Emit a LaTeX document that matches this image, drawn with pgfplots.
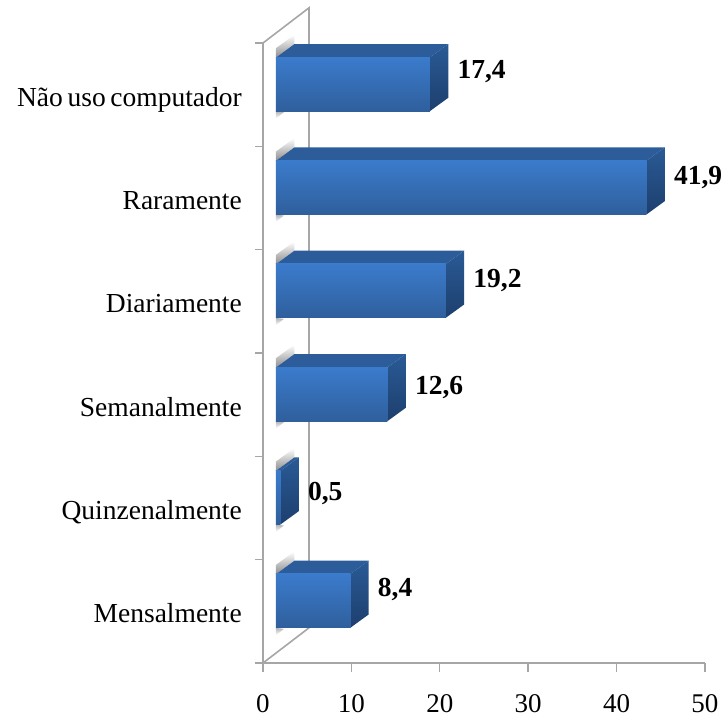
\documentclass[border=0pt]{standalone}
\usepackage{fontspec}
\setmainfont{Liberation Serif}
\usepackage{pgfplots}
\pgfplotsset{compat=1.18}

\definecolor{wallgray}{HTML}{A6A6A6}
\definecolor{topface}{HTML}{2C5C99}
\definecolor{frontlight}{HTML}{3B7BCC}
\definecolor{frontdark}{HTML}{2F5F9C}
\definecolor{sidelight}{HTML}{2A5A95}
\definecolor{sidedark}{HTML}{1D3F6E}

% one bar: #1 value, #2 centre on the vertical axis, #3 raise of its label
\newcommand{\threedbar}[3]{%
  \pgfmathsetmacro{\xa}{1.47}%
  \pgfmathsetmacro{\xb}{1.47+#1}%
  \pgfmathsetmacro{\xc}{1.47+#1+2.09}%
  \pgfmathsetmacro{\xd}{1.47+2.09}%
  \pgfmathsetmacro{\xe}{1.47+0.9}%
  \pgfmathsetmacro{\yt}{#2+0.26}%
  \pgfmathsetmacro{\yb}{#2-0.26}%
  \pgfmathsetmacro{\ytt}{#2+0.39}%
  \pgfmathsetmacro{\ybb}{#2-0.13}%
  \pgfmathsetmacro{\shb}{#2+0.35}%
  \pgfmathsetmacro{\shc}{#2+0.48}%
  \pgfmathsetmacro{\shd}{#2-0.33}%
  \pgfmathsetmacro{\she}{#2-0.27}%
  % shadow cast on the wall above and below the bar
  \addplot[draw=none, forget plot, bottom color=gray!90, top color=white]
    coordinates {(\xa,\yt) (\xd,\ytt) (\xd,\shc) (\xa,\shb)} --cycle;
  \addplot[draw=none, forget plot, top color=gray!60, bottom color=white]
    coordinates {(\xa,\yb) (\xe,\she) (\xa,\shd)} --cycle;
  % upper and side faces
  \addplot[draw=none, forget plot, fill=topface]
    coordinates {(\xa,\yt) (\xb,\yt) (\xc,\ytt) (\xd,\ytt)} --cycle;
  \addplot[draw=none, forget plot, top color=sidelight, bottom color=sidedark]
    coordinates {(\xb,\yt) (\xc,\ytt) (\xc,\ybb) (\xb,\yb)} --cycle;
  % front face with its value label
  \addplot[
    xbar, bar width=54pt, bar shift=0pt, xshift=13pt, forget plot,
    draw=none, top color=frontlight, bottom color=frontdark,
    point meta=x,
    nodes near coords={\textbf{\pgfmathprintnumber[fixed, fixed zerofill, precision=1, use comma, assume math mode=true]{\pgfplotspointmeta}}},
    nodes near coords style={anchor=west, inner sep=0pt, xshift=27.5pt, yshift=#3,
      font=\fontsize{27.5}{30}\selectfont, text=black},
  ] coordinates {(#1,#2)};
}

\begin{document}
\begin{tikzpicture}[x=1pt,y=1pt]
\clip (0,0) rectangle (721,717);
\begin{axis}[
  at={(263pt,54pt)}, anchor=origin,
  scale only axis, width=442pt, height=620pt,
  xmin=0, xmax=50, ymin=0, ymax=6,
  clip=false,
  axis x line*=bottom, axis y line*=left,
  axis line style={wallgray, line width=1.6pt},
  xtick={0,10,20,30,40,50},
  ytick={0.6,1.6,2.6,3.6,4.6,5.6},
  yticklabels={Mensalmente,Quinzenalmente,Semanalmente,Diariamente,Raramente,Não\hspace{0.17em}uso\hspace{0.17em}computador},
  minor ytick={0,1,2,3,4,5,6},
  major tick length=9pt, minor tick length=8pt,
  tick style={wallgray, line width=1.4pt},
  major y tick style={draw=none},
  tick align=outside,
  xticklabel style={inner sep=0pt, yshift=-22pt, font=\fontsize{27}{30}\selectfont},
  yticklabel style={anchor=base east, inner sep=0pt, xshift=-12pt, yshift=-22pt,
    font=\fontsize{27.5}{30}\selectfont},
  /pgf/number format/assume math mode=true,
]
  % side and back walls of the chart box
  \addplot[wallgray, line width=1.6pt, forget plot]
    coordinates {(0,6) (5.2,6.34) (5.2,0.34) (0,0)};

  \threedbar{8.4}{0.6}{11.5pt}
  \threedbar{0.5}{1.6}{4.5pt}
  \threedbar{12.6}{2.6}{6.5pt}
  \threedbar{19.2}{3.6}{10.5pt}
  \threedbar{41.9}{4.6}{10.5pt}
  \threedbar{17.4}{5.6}{12.5pt}
\end{axis}
\end{tikzpicture}
\end{document}
